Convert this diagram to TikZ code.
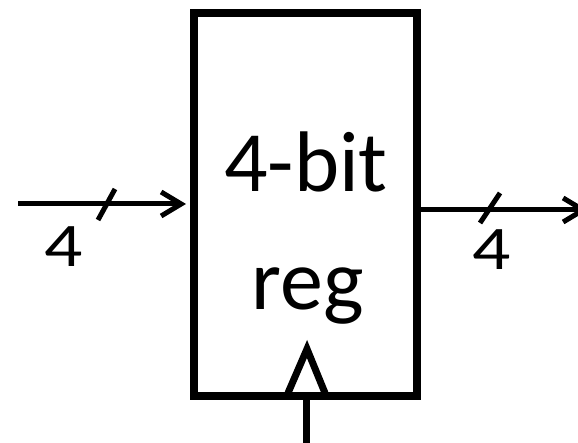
\documentclass[tikz,border=0pt]{standalone}
\usepackage{fontspec}
\setmainfont{Carlito}
\usetikzlibrary{arrows.meta,positioning}

\begin{document}
\begin{tikzpicture}[
  x=1pt, y=-1pt,
  regbox/.style={draw, line width=8pt, minimum width=223pt, minimum height=383pt, inner sep=0pt},
  big/.style={anchor=base, inner sep=0pt, font=\fontsize{86}{100}\selectfont},
  busw/.style={anchor=base, inner sep=0pt, xscale=1.22, font=\fontsize{62}{70}\selectfont},
  arrow/.style={-{Straight Barb[length=20pt, width=24pt]}, line width=5pt},
  slash/.style={line width=5pt},
  clkline/.style={line width=7pt}
]
\useasboundingbox (0,0) rectangle (578,443);

\node[regbox] (reg) at (305.5,204.5) {};
\node[big] (name1) at (306,192) {4-bit};
\node[big] (name2) at (308,310) {reg};

% bus in / bus out
\coordinate (in) at (18,204);
\coordinate (out) at (588,210);
\draw[arrow, shorten >=4pt] (in) -- (in -| reg.west);
\draw[arrow] (reg.east |- out) -- (out);
\draw[slash] (98,220) -- (115,189);
\draw[slash] (480,223) -- (500,193);
\node[busw] (w1) at (64,267) {4};
\node[busw] (w2) at (492,270) {4};

% clock
\coordinate (clk) at (306,450);
\draw[clkline] (clk) -- (clk |- reg.south);
\draw[clkline, line join=miter] (288,393) -- (307,349) -- (325,393);
\end{tikzpicture}
\end{document}
